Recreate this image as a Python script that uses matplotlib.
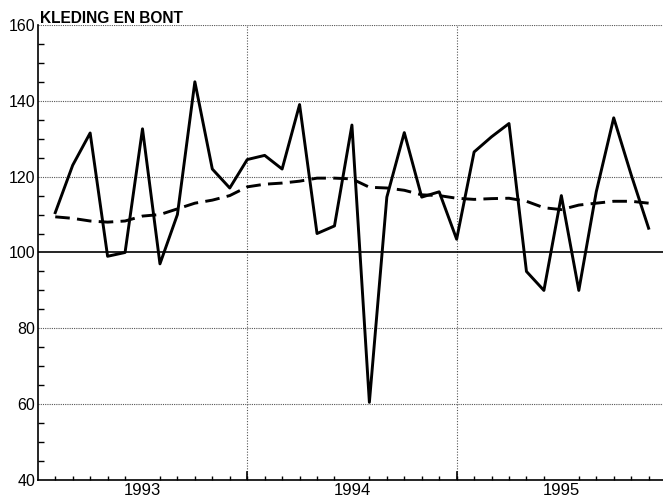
import matplotlib.pyplot as plt
import numpy as np

# maandindex (1 = jan 1993 grens ... )
maand = np.arange(1, 36)

index = [110.5, 123, 131.5, 99, 100, 132.6, 97, 110, 145, 122, 117, 124.5,
         125.6, 122, 139, 105, 107, 133.6, 60.5, 114.6, 131.6, 114.6, 116, 103.5,
         126.5, 130.5, 134, 95, 90, 115, 90, 116, 135.5, 120.5, 106.4]

trend = [109.4, 109, 108.3, 108, 108.3, 109.6, 110, 111.5, 113, 113.8, 115, 117.3,
         118, 118.3, 118.8, 119.6, 119.6, 119.4, 117.2, 117, 116.4, 115.2, 115, 114.3,
         114, 114.2, 114.3, 113.5, 111.8, 111.3, 112.5, 113, 113.5, 113.5, 113]

jaren = ['1993', '1994', '1995']
jaar_pos = [6, 18, 30]

plt.rcParams['font.family'] = ['Liberation Sans', 'DejaVu Sans']

fig = plt.figure(figsize=(6.63, 4.98), dpi=100)
ax = fig.add_axes([0.057, 0.036, 0.945, 0.914])

# raster
for y in [60, 80, 120, 140, 160]:
    ax.axhline(y, color='#555555', lw=0.8, ls=(0, (1, 1)), zorder=1)
for x in [12, 24]:
    ax.axvline(x, color='#555555', lw=0.8, ls=(0, (1, 1.5)), zorder=1)
ax.axhline(100, color='black', lw=1.2, zorder=2)

ax.plot(maand, index, color='black', lw=2.1, zorder=3)
ax.plot(maand, trend, color='black', lw=2.1, ls=(0, (5, 2.5)), zorder=3)

ax.set_xlim(0, 35.9)
ax.set_ylim(40, 160)

ax.spines['top'].set_visible(False)
ax.spines['right'].set_visible(False)
ax.spines['left'].set_linewidth(1.2)
ax.spines['bottom'].set_linewidth(1.2)

ax.set_yticks([40, 60, 80, 100, 120, 140, 160])
ax.set_yticks(np.arange(40, 161, 5), minor=True)
ax.tick_params(axis='y', which='major', direction='in', length=0, labelsize=11.5, pad=2)
ax.tick_params(axis='y', which='minor', direction='in', length=4, width=1)

ax.set_xticks(jaar_pos)
ax.set_xticklabels(jaren)
ax.set_xticks(np.arange(1, 36), minor=True)
ax.tick_params(axis='x', which='major', length=0, labelsize=12, pad=2)
ax.tick_params(axis='x', which='minor', direction='in', length=3, width=1)
for x in [12, 24]:
    ax.plot([x, x], [40, 42], color='black', lw=1.2, zorder=4)

fig.text(0.06, 0.953, 'KLEDING EN BONT', fontsize=11.2, fontweight='bold',
         ha='left', va='baseline')

fig.savefig('out.png', dpi=100)
